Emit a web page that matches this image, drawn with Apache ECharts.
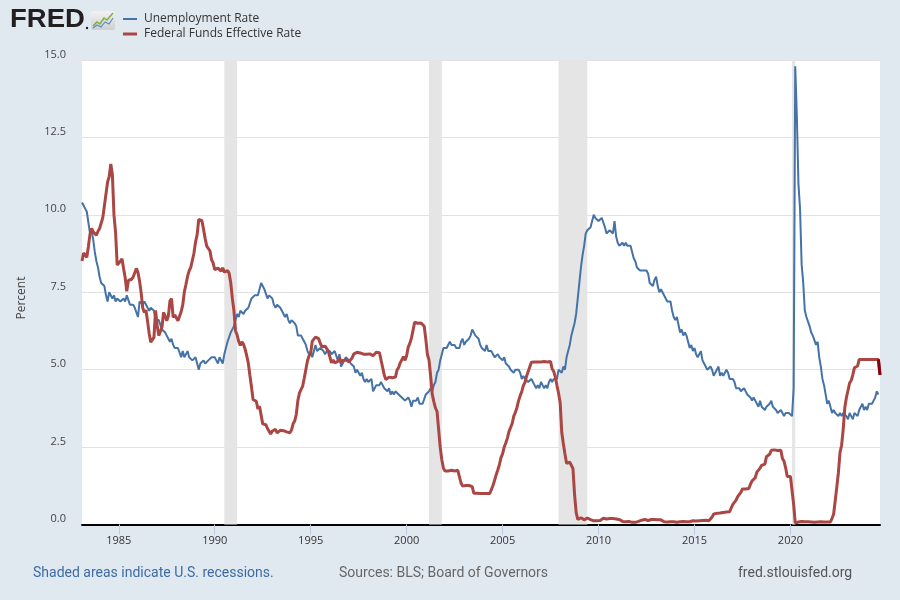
<!DOCTYPE html>
<html>
<head>
<meta charset="utf-8">
<script src="https://cdn.jsdelivr.net/npm/echarts@6/dist/echarts.min.js"></script>
<style>
html,body{margin:0;padding:0;background:#e1e9f0;}
#chart{width:900px;height:600px;}
</style>
</head>
<body>
<div id="chart"></div>
<script>
// Monthly data starting Feb 1983
const startYear = 1983;
const startMonth = 2;

// Unemployment Rate (%), monthly from 1983-02
const unrate = [
  10.4, 10.3, 10.2, 10.1, 10.1, 9.4, 9.5, 9.2, 8.8, 8.5, 8.3,
  8.0, 7.8, 7.8, 7.7, 7.4, 7.2, 7.5, 7.5, 7.3, 7.4, 7.2, 7.3,
  7.3, 7.2, 7.2, 7.3, 7.2, 7.4, 7.4, 7.1, 7.1, 7.1, 7.0, 7.0,
  6.7, 7.2, 7.2, 7.1, 7.2, 7.2, 7.0, 6.9, 7.0, 7.0, 6.9, 6.6,
  6.6, 6.6, 6.6, 6.3, 6.3, 6.2, 6.1, 6.0, 5.9, 6.0, 5.8, 5.7,
  5.7, 5.7, 5.7, 5.4, 5.6, 5.4, 5.4, 5.6, 5.4, 5.4, 5.3, 5.3,
  5.4, 5.2, 5.0, 5.2, 5.2, 5.3, 5.2, 5.2, 5.3, 5.3, 5.4, 5.4,
  5.4, 5.3, 5.2, 5.4, 5.4, 5.2, 5.5, 5.7, 5.9, 5.9, 6.2, 6.3,
  6.4, 6.6, 6.8, 6.7, 6.9, 6.9, 6.8, 6.9, 6.9, 7.0, 7.0, 7.3,
  7.3, 7.4, 7.4, 7.4, 7.6, 7.8, 7.7, 7.6, 7.6, 7.3, 7.4, 7.4,
  7.3, 7.1, 7.0, 7.1, 7.1, 7.0, 6.9, 6.8, 6.7, 6.8, 6.6, 6.5,
  6.6, 6.6, 6.5, 6.4, 6.1, 6.1, 6.1, 6.0, 5.9, 5.8, 5.6, 5.5,
  5.6, 5.4, 5.4, 5.8, 5.6, 5.6, 5.7, 5.7, 5.6, 5.5, 5.6, 5.6,
  5.6, 5.5, 5.5, 5.6, 5.6, 5.3, 5.5, 5.1, 5.2, 5.2, 5.4, 5.4,
  5.3, 5.2, 5.2, 5.1, 4.9, 5.0, 4.9, 4.8, 4.9, 4.7, 4.6, 4.7,
  4.6, 4.6, 4.7, 4.3, 4.4, 4.5, 4.5, 4.5, 4.6, 4.5, 4.4, 4.4,
  4.3, 4.4, 4.2, 4.3, 4.2, 4.3, 4.3, 4.2, 4.2, 4.1, 4.1, 4.0,
  4.0, 4.1, 4.0, 3.8, 4.0, 4.0, 4.0, 4.1, 3.9, 3.9, 3.9, 3.9,
  4.2, 4.2, 4.3, 4.4, 4.3, 4.5, 4.6, 4.9, 5.0, 5.3, 5.5, 5.7,
  5.7, 5.7, 5.7, 5.9, 5.8, 5.8, 5.8, 5.7, 5.7, 5.7, 5.9, 6.0,
  5.8, 5.9, 5.9, 6.0, 6.1, 6.3, 6.2, 6.1, 6.1, 6.0, 5.8, 5.7,
  5.7, 5.6, 5.8, 5.6, 5.6, 5.6, 5.5, 5.4, 5.4, 5.5, 5.4, 5.4,
  5.3, 5.4, 5.2, 5.2, 5.1, 5.0, 5.0, 4.9, 5.0, 5.0, 5.0, 4.9,
  4.7, 4.8, 4.7, 4.7, 4.6, 4.6, 4.7, 4.7, 4.5, 4.4, 4.5, 4.4,
  4.6, 4.5, 4.4, 4.5, 4.4, 4.6, 4.7, 4.6, 4.7, 4.7, 4.7, 5.0,
  5.0, 4.9, 5.1, 5.0, 5.4, 5.6, 5.8, 6.1, 6.1, 6.5, 6.8, 7.3,
  7.8, 8.3, 8.7, 9.0, 9.4, 9.5, 9.5, 9.6, 9.8, 10.0, 9.9, 9.9,
  9.8, 9.8, 9.9, 9.9, 9.6, 9.4, 9.4, 9.5, 9.5, 9.4, 9.8, 9.3,
  9.1, 9.0, 9.0, 9.1, 9.0, 9.1, 9.0, 9.0, 9.0, 8.8, 8.6, 8.5,
  8.3, 8.3, 8.2, 8.2, 8.2, 8.2, 8.2, 8.1, 7.8, 7.8, 7.7, 7.9,
  8.0, 7.7, 7.5, 7.6, 7.5, 7.5, 7.3, 7.2, 7.2, 7.2, 6.9, 6.7,
  6.6, 6.7, 6.7, 6.2, 6.3, 6.1, 6.2, 6.1, 5.9, 5.7, 5.8, 5.6,
  5.7, 5.5, 5.4, 5.4, 5.6, 5.3, 5.2, 5.1, 5.0, 5.0, 5.1, 5.0,
  4.8, 4.9, 5.0, 5.1, 4.8, 4.9, 4.8, 4.9, 5.0, 4.9, 4.7, 4.7,
  4.7, 4.6, 4.4, 4.4, 4.4, 4.3, 4.3, 4.4, 4.3, 4.2, 4.2, 4.1,
  4.0, 4.1, 4.0, 4.0, 3.8, 4.0, 3.8, 3.8, 3.7, 3.8, 3.8, 3.9,
  4.0, 3.8, 3.8, 3.7, 3.6, 3.6, 3.7, 3.6, 3.5, 3.6, 3.6, 3.6,
  3.6, 3.5, 4.4, 14.8, 13.2, 11.0, 10.2, 8.4, 7.8, 6.9, 6.7, 6.7,
  6.4, 6.2, 6.1, 6.1, 5.8, 5.9, 5.4, 5.1, 4.7, 4.5, 4.2, 3.9,
  4.0, 3.8, 3.6, 3.7, 3.6, 3.6, 3.5, 3.6, 3.5, 3.6, 3.6, 3.5,
  3.4, 3.6, 3.5, 3.4, 3.6, 3.6, 3.5, 3.7, 3.8, 3.9, 3.7, 3.8,
  3.7, 3.9, 3.9, 3.9, 4.0, 4.1, 4.3, 4.2
];

// Federal Funds Effective Rate (%), monthly from 1983-02
const fedfunds = [
  8.51, 8.77, 8.80, 8.63, 8.98, 9.37, 9.56, 9.45, 9.48, 9.34, 9.47,
  9.56, 9.59, 9.91, 10.29, 10.32, 11.06, 11.23, 11.64, 11.30, 9.99, 9.43, 8.38,
  8.35, 8.50, 8.58, 8.27, 7.97, 7.53, 7.88, 7.90, 7.92, 7.99, 8.05, 8.27,
  8.14, 7.86, 7.48, 6.99, 6.85, 6.92, 6.56, 6.17, 5.89, 5.85, 6.04, 6.91,
  6.43, 6.10, 6.13, 6.37, 6.85, 6.73, 6.58, 6.73, 7.22, 7.29, 6.69, 6.77,
  6.83, 6.58, 6.58, 6.87, 7.09, 7.51, 7.75, 8.01, 8.19, 8.30, 8.35, 8.76,
  9.12, 9.36, 9.85, 9.84, 9.81, 9.53, 9.24, 8.99, 9.02, 8.84, 8.55, 8.45,
  8.23, 8.24, 8.28, 8.26, 8.18, 8.29, 8.15, 8.13, 8.20, 8.11, 7.81, 7.31,
  6.91, 6.25, 6.12, 5.91, 5.78, 5.90, 5.82, 5.66, 5.45, 5.21, 4.81, 4.43,
  4.03, 4.06, 3.98, 3.73, 3.82, 3.76, 3.25, 3.30, 3.22, 3.10, 3.09, 2.92,
  3.02, 3.03, 3.07, 2.96, 3.00, 3.04, 3.06, 3.03, 3.09, 2.99, 3.02, 2.96,
  3.05, 3.25, 3.34, 3.56, 4.01, 4.25, 4.26, 4.47, 4.73, 4.76, 5.29, 5.45,
  5.53, 5.92, 5.98, 6.05, 6.01, 6.00, 5.85, 5.74, 5.80, 5.76, 5.80, 5.60,
  5.56, 5.22, 5.31, 5.22, 5.24, 5.27, 5.40, 5.22, 5.30, 5.24, 5.31, 5.29,
  5.25, 5.19, 5.39, 5.51, 5.50, 5.56, 5.52, 5.54, 5.54, 5.50, 5.52, 5.50,
  5.56, 5.51, 5.49, 5.45, 5.49, 5.56, 5.54, 5.55, 5.51, 5.07, 4.83, 4.68,
  4.63, 4.76, 4.81, 4.74, 4.74, 4.76, 4.99, 5.07, 5.22, 5.20, 5.42, 5.30,
  5.45, 5.73, 5.85, 6.02, 6.27, 6.53, 6.54, 6.50, 6.52, 6.51, 6.51, 6.40,
  5.98, 5.49, 5.31, 4.80, 4.21, 3.97, 3.77, 3.65, 3.07, 2.49, 2.09, 1.82,
  1.73, 1.74, 1.73, 1.75, 1.75, 1.75, 1.73, 1.74, 1.75, 1.75, 1.34, 1.24,
  1.24, 1.26, 1.25, 1.26, 1.26, 1.22, 1.01, 1.03, 1.01, 1.01, 1.00, 0.98,
  1.00, 1.01, 1.00, 1.00, 1.00, 1.03, 1.26, 1.43, 1.61, 1.76, 1.93, 2.16,
  2.28, 2.50, 2.63, 2.79, 3.00, 3.04, 3.26, 3.50, 3.62, 3.78, 4.00, 4.16,
  4.29, 4.49, 4.59, 4.79, 4.94, 4.99, 5.24, 5.25, 5.25, 5.25, 5.25, 5.24,
  5.25, 5.26, 5.26, 5.25, 5.25, 5.25, 5.26, 5.02, 4.94, 4.76, 4.49, 4.24,
  3.94, 2.98, 2.61, 2.28, 1.98, 2.00, 2.01, 2.00, 1.81, 0.97, 0.39, 0.16,
  0.15, 0.22, 0.18, 0.15, 0.18, 0.21, 0.16, 0.16, 0.15, 0.12, 0.12, 0.12,
  0.11, 0.13, 0.16, 0.20, 0.20, 0.18, 0.18, 0.19, 0.19, 0.19, 0.19, 0.18,
  0.17, 0.16, 0.14, 0.10, 0.09, 0.09, 0.07, 0.10, 0.08, 0.07, 0.08, 0.07,
  0.08, 0.10, 0.13, 0.14, 0.16, 0.16, 0.16, 0.13, 0.14, 0.16, 0.16, 0.16,
  0.14, 0.15, 0.14, 0.15, 0.11, 0.09, 0.09, 0.08, 0.08, 0.09, 0.08, 0.09,
  0.07, 0.07, 0.08, 0.09, 0.09, 0.10, 0.09, 0.09, 0.09, 0.09, 0.09, 0.12,
  0.11, 0.11, 0.11, 0.12, 0.12, 0.13, 0.13, 0.14, 0.14, 0.12, 0.12, 0.24,
  0.34, 0.38, 0.36, 0.37, 0.37, 0.38, 0.39, 0.40, 0.40, 0.40, 0.41, 0.54,
  0.65, 0.66, 0.79, 0.90, 0.91, 1.04, 1.15, 1.16, 1.15, 1.15, 1.16, 1.30,
  1.41, 1.42, 1.51, 1.69, 1.70, 1.82, 1.91, 1.91, 1.95, 2.19, 2.20, 2.27,
  2.40, 2.40, 2.41, 2.42, 2.39, 2.38, 2.40, 2.13, 2.04, 1.83, 1.55, 1.55,
  1.55, 1.58, 0.65, 0.05, 0.05, 0.08, 0.09, 0.10, 0.09, 0.09, 0.09, 0.09,
  0.09, 0.08, 0.07, 0.07, 0.06, 0.08, 0.10, 0.09, 0.08, 0.08, 0.08, 0.08,
  0.08, 0.08, 0.20, 0.33, 0.77, 1.21, 1.68, 2.33, 2.56, 3.08, 3.78, 4.10,
  4.33, 4.57, 4.65, 4.83, 5.06, 5.08, 5.12, 5.33, 5.33, 5.33, 5.33, 5.33,
  5.33, 5.33, 5.33, 5.33, 5.33, 5.33, 5.33, 5.33, 4.83
];

// Recessions [start year, start month, end year, end month]
const recessions = [
  [1990, 7, 1991, 3],
  [2001, 3, 2001, 11],
  [2007, 12, 2009, 6],
  [2020, 2, 2020, 4]
];

const xTicks = [1985, 1990, 1995, 2000, 2005, 2010, 2015, 2020];

function ym(y, m) { return y + (m - 1) / 12; }
function idxToX(i) { return ym(startYear, startMonth) + i / 12; }

const unData = unrate.map((v, i) => [idxToX(i), v]);
const ffData = fedfunds.map((v, i) => [idxToX(i), v]);
const ffLast = ffData.slice(ffData.length - 2);

const xMin = idxToX(0);
const xMax = idxToX(fedfunds.length - 1);

const chart = echarts.init(document.getElementById('chart'), null, { renderer: 'canvas' });

const font = 'Open Sans, Roboto, sans-serif';

chart.setOption({
  animation: false,
  backgroundColor: '#e1e9f0',
  grid: { left: 82, right: 20, top: 60, bottom: 75.5, show: true, backgroundColor: '#ffffff', borderWidth: 0 },
  xAxis: {
    type: 'value',
    min: xMin,
    max: xMax,
    axisLine: { show: true, onZero: false, lineStyle: { color: '#000000', width: 2 } },
    axisTick: { show: true, customValues: xTicks, length: 10, lineStyle: { color: '#bccde2', width: 1 } },
    axisLabel: { customValues: xTicks, color: '#333333', fontSize: 11, fontFamily: font, margin: 11, formatter: v => String(Math.round(v)) },
    splitLine: { show: false }
  },
  yAxis: {
    type: 'value',
    min: 0,
    max: 15,
    interval: 2.5,
    axisLine: { show: false },
    axisTick: { show: false },
    axisLabel: { color: '#444444', fontSize: 11, fontFamily: font, margin: 16, verticalAlign: 'bottom', formatter: v => v.toFixed(1) },
    splitLine: { show: true, lineStyle: { color: '#e2e2e2', width: 1 } }
  },
  series: [
    {
      name: 'Recessions',
      type: 'line',
      data: [],
      silent: true,
      markArea: {
        silent: true,
        itemStyle: { color: '#e5e5e5' },
        data: recessions.map(r => [{ xAxis: ym(r[0], r[1]) }, { xAxis: ym(r[2], r[3]) }])
      }
    },
    {
      name: 'Unemployment Rate',
      type: 'line',
      data: unData,
      showSymbol: false,
      symbol: 'none',
      lineStyle: { color: '#4572a7', width: 2 },
      itemStyle: { color: '#4572a7' },
      z: 3
    },
    {
      name: 'Federal Funds Effective Rate',
      type: 'line',
      data: ffData,
      showSymbol: false,
      symbol: 'none',
      lineStyle: { color: '#aa4643', width: 3 },
      itemStyle: { color: '#aa4643' },
      z: 4
    },
    {
      name: 'ffLast',
      type: 'line',
      data: ffLast,
      showSymbol: false,
      symbol: 'none',
      lineStyle: { color: '#8a0010', width: 3 },
      z: 5
    }
  ],
  graphic: [
    // FRED logo
    { type: 'text', x: 10, y: 8, scaleX: 1.1, style: { text: 'FRED', fill: '#231f20', font: '900 25px "Liberation Sans", Arial, sans-serif' } },
    { type: 'circle', shape: { cx: 87, cy: 28, r: 1.2 }, style: { fill: '#231f20' } },
    { type: 'rect', shape: { x: 91, y: 11, width: 24, height: 19, r: 2 }, style: { fill: { type: 'linear', x: 0, y: 0, x2: 0, y2: 1, colorStops: [{ offset: 0, color: '#f2f2f2' }, { offset: 1, color: '#cfcfcf' }] } } },
    { type: 'polyline', shape: { points: [[93, 26], [97, 22], [100, 24], [104, 18], [107, 20], [113, 13]] }, style: { stroke: '#7fae3c', lineWidth: 1.5, fill: null } },
    { type: 'polyline', shape: { points: [[93, 28], [97, 25], [101, 27], [105, 22], [109, 24], [113, 18]] }, style: { stroke: '#5a8fc6', lineWidth: 1.2, fill: null } },
    // Legend
    { type: 'line', shape: { x1: 123, y1: 19, x2: 137, y2: 19 }, style: { stroke: '#4572a7', lineWidth: 2 } },
    { type: 'text', x: 144, y: 19, style: { text: 'Unemployment Rate', fill: '#333333', font: '12px ' + font, verticalAlign: 'middle' } },
    { type: 'line', shape: { x1: 123, y1: 34, x2: 137, y2: 34 }, style: { stroke: '#aa4643', lineWidth: 3 } },
    { type: 'text', x: 144, y: 34, style: { text: 'Federal Funds Effective Rate', fill: '#333333', font: '12px ' + font, verticalAlign: 'middle' } },
    // Y axis name
    { type: 'text', x: 22, y: 298, rotation: Math.PI / 2, style: { text: 'Percent', fill: '#444444', font: '12px ' + font, align: 'center', verticalAlign: 'middle' } },
    // Footer
    { type: 'text', x: 33, y: 573, style: { text: 'Shaded areas indicate U.S. recessions.', fill: '#3c6ba5', font: '14px Roboto, sans-serif', verticalAlign: 'middle' } },
    { type: 'text', x: 339, y: 573, style: { text: 'Sources: BLS; Board of Governors', fill: '#666666', font: '14px Roboto, sans-serif', verticalAlign: 'middle' } },
    { type: 'text', x: 738, y: 573, style: { text: 'fred.stlouisfed.org', fill: '#555555', font: '14px Roboto, sans-serif', verticalAlign: 'middle' } }
  ]
});
</script>
</body>
</html>
